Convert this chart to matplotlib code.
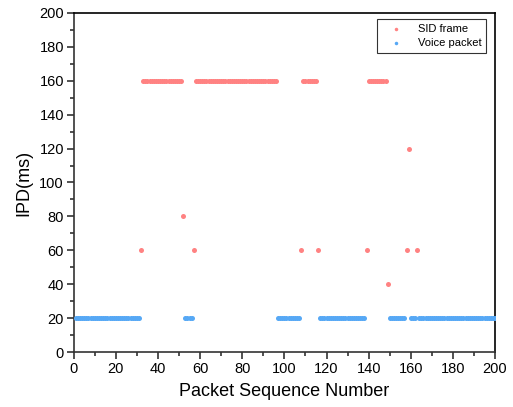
import matplotlib
matplotlib.use('agg')
import matplotlib.pyplot as plt
from matplotlib.ticker import MultipleLocator

plt.rcParams['font.family'] = ['Liberation Sans', 'DejaVu Sans']

# runs of packets: (first seq, last seq, IPD in ms)
VOICE_RUNS = [(1, 31, 20), (53, 56, 20), (97, 107, 20), (117, 138, 20),
              (150, 157, 20), (160, 162, 20), (164, 200, 20)]
SID_RUNS = [(33, 51, 160), (58, 96, 160), (109, 115, 160), (140, 148, 160)]
# single SID frames: sequence number and IPD
SID_SEQ = [32, 52, 57, 108, 116, 139, 149, 158, 159, 163]
SID_IPD = [60, 80, 60, 60, 60, 60, 40, 60, 120, 60]

RED = '#FF8282'
BLUE = '#56A8F5'


def expand(runs):
    xs, ys = [], []
    for a, b, v in runs:
        for s in range(a, b + 1):
            xs.append(s)
            ys.append(v)
    return xs, ys


def main():
    vx, vy = expand(VOICE_RUNS)
    sx, sy = expand(SID_RUNS)
    sx += SID_SEQ
    sy += SID_IPD

    fig = plt.figure(figsize=(5.13, 4.07), dpi=100)
    ax = fig.add_axes([0.1437, 0.1346, 0.8213, 0.834])

    ax.scatter(sx, sy, s=13, color=RED, linewidths=0, label='SID frame', zorder=3)
    ax.scatter(vx, vy, s=13, color=BLUE, linewidths=0, label='Voice packet', zorder=3)

    ax.set_xlim(0, 200)
    ax.set_ylim(0, 200)
    ax.xaxis.set_major_locator(MultipleLocator(20))
    ax.xaxis.set_minor_locator(MultipleLocator(10))
    ax.yaxis.set_major_locator(MultipleLocator(20))
    ax.yaxis.set_minor_locator(MultipleLocator(10))
    ax.tick_params(which='both', direction='out', top=False, right=False,
                   width=1.2, color='#333333', labelsize=10.5)
    ax.tick_params(which='major', length=5, pad=2)
    ax.tick_params(which='minor', length=3)
    for sp in ax.spines.values():
        sp.set_linewidth(1.2)
    ax.spines['left'].set_color('#333333')
    ax.spines['bottom'].set_color('#333333')

    ax.set_xlabel('Packet Sequence Number', fontsize=13, labelpad=5)
    ax.set_ylabel('IPD(ms)', fontsize=13, labelpad=5)

    leg = ax.legend(loc='upper right', fontsize=8, frameon=True, fancybox=False,
                    edgecolor='black', markerscale=0.7, handlelength=2.6,
                    handletextpad=0.6, borderpad=0.45, labelspacing=0.35,
                    borderaxespad=0, bbox_to_anchor=(0.979, 0.982))
    leg.get_frame().set_linewidth(0.8)

    fig.savefig('out.png', dpi=100)


if __name__ == '__main__':
    main()
